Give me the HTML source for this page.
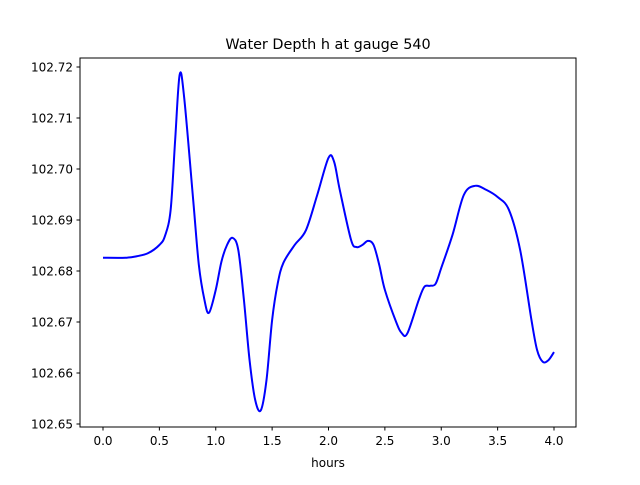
<!DOCTYPE html>
<html><head><meta charset="utf-8"><style>
body{margin:0;background:#fff;}
svg text{font-family:"DejaVu Sans","Liberation Sans",sans-serif;font-size:12px;fill:#000;}
</style></head><body>
<svg width="640" height="480" viewBox="0 0 640 480">
<text x="328" y="49" text-anchor="middle" style="font-size:14.4px">Water Depth h at gauge 540</text>
<g id="axes"></g>
<path id="line" fill="none" stroke="#0000ff" stroke-width="2"></path>
<rect x="80" y="58" width="496" height="369" fill="none" stroke="#000" stroke-width="1"/>
<text x="328" y="467" text-anchor="middle">hours</text>
</svg>
<script>
const hours=[0,0.2,0.3,0.4,0.5,0.55,0.6,0.64,0.68,0.72,0.8,0.85,0.9,0.94,1.0,1.05,1.1,1.15,1.2,1.25,1.3,1.35,1.4,1.45,1.5,1.55,1.6,1.7,1.8,1.9,2.0,2.05,2.1,2.2,2.25,2.3,2.35,2.4,2.45,2.5,2.6,2.65,2.7,2.8,2.85,2.9,2.95,3.0,3.1,3.2,3.3,3.4,3.5,3.6,3.7,3.8,3.85,3.9,3.95,4.0];
const depth=[102.6826,102.6826,102.6829,102.6835,102.6851,102.6869,102.6920,102.7057,102.7185,102.7140,102.6939,102.6812,102.6743,102.6718,102.6763,102.6818,102.6851,102.6865,102.6841,102.6743,102.6625,102.6547,102.6527,102.6586,102.6704,102.6776,102.6816,102.6851,102.6880,102.6949,102.7022,102.7014,102.6959,102.6861,102.6847,102.6851,102.6859,102.6851,102.6812,102.6763,102.6700,102.6678,102.6678,102.6743,102.6769,102.6771,102.6775,102.6806,102.6871,102.6949,102.6967,102.6959,102.6945,102.6920,102.6841,102.6704,102.6645,102.6622,102.6625,102.6641];
const xTicks=[0,0.5,1,1.5,2,2.5,3,3.5,4];
const yTicks=[102.65,102.66,102.67,102.68,102.69,102.70,102.71,102.72];
function sx(v){return 103+v*112.75;}
function sy(v){return 67+(102.72-v)*5100;}
const ns="http://www.w3.org/2000/svg";
const ax=document.getElementById('axes');
xTicks.forEach(t=>{
 const l=document.createElementNS(ns,'line');
 
 
 l.setAttribute('x1',sx(t));l.setAttribute('x2',sx(t));l.setAttribute('y1',427);l.setAttribute('y2',430.5);l.setAttribute('stroke','#000');
 ax.appendChild(l);
 const tx=document.createElementNS(ns,'text');
 
 
 tx.setAttribute('x',sx(t));tx.setAttribute('y',445);tx.setAttribute('text-anchor','middle');
 tx.textContent=t.toFixed(1);ax.appendChild(tx);
});
yTicks.forEach(t=>{
 const l=document.createElementNS(ns,'line');
 
 
 l.setAttribute('x1',76.5);l.setAttribute('x2',80);l.setAttribute('y1',sy(t));l.setAttribute('y2',sy(t));l.setAttribute('stroke','#000');
 ax.appendChild(l);
 const tx=document.createElementNS(ns,'text');
 
 
 tx.setAttribute('x',73);tx.setAttribute('y',sy(t)+4.5);tx.setAttribute('text-anchor','end');
 tx.textContent=t.toFixed(2);ax.appendChild(tx);
});
const P=hours.map((h,i)=>[sx(h),sy(depth[i])]);
let d='M'+P[0][0]+','+P[0][1];
for(let i=0;i<P.length-1;i++){
 const p0=P[Math.max(0,i-1)],p1=P[i],p2=P[i+1],p3=P[Math.min(P.length-1,i+2)];
 const c1=[p1[0]+(p2[0]-p0[0])/6,p1[1]+(p2[1]-p0[1])/6];
 const c2=[p2[0]-(p3[0]-p1[0])/6,p2[1]-(p3[1]-p1[1])/6];
 d+=' C'+c1+' '+c2+' '+p2;
}
document.getElementById('line').setAttribute('d',d);
</script>
</body></html>
